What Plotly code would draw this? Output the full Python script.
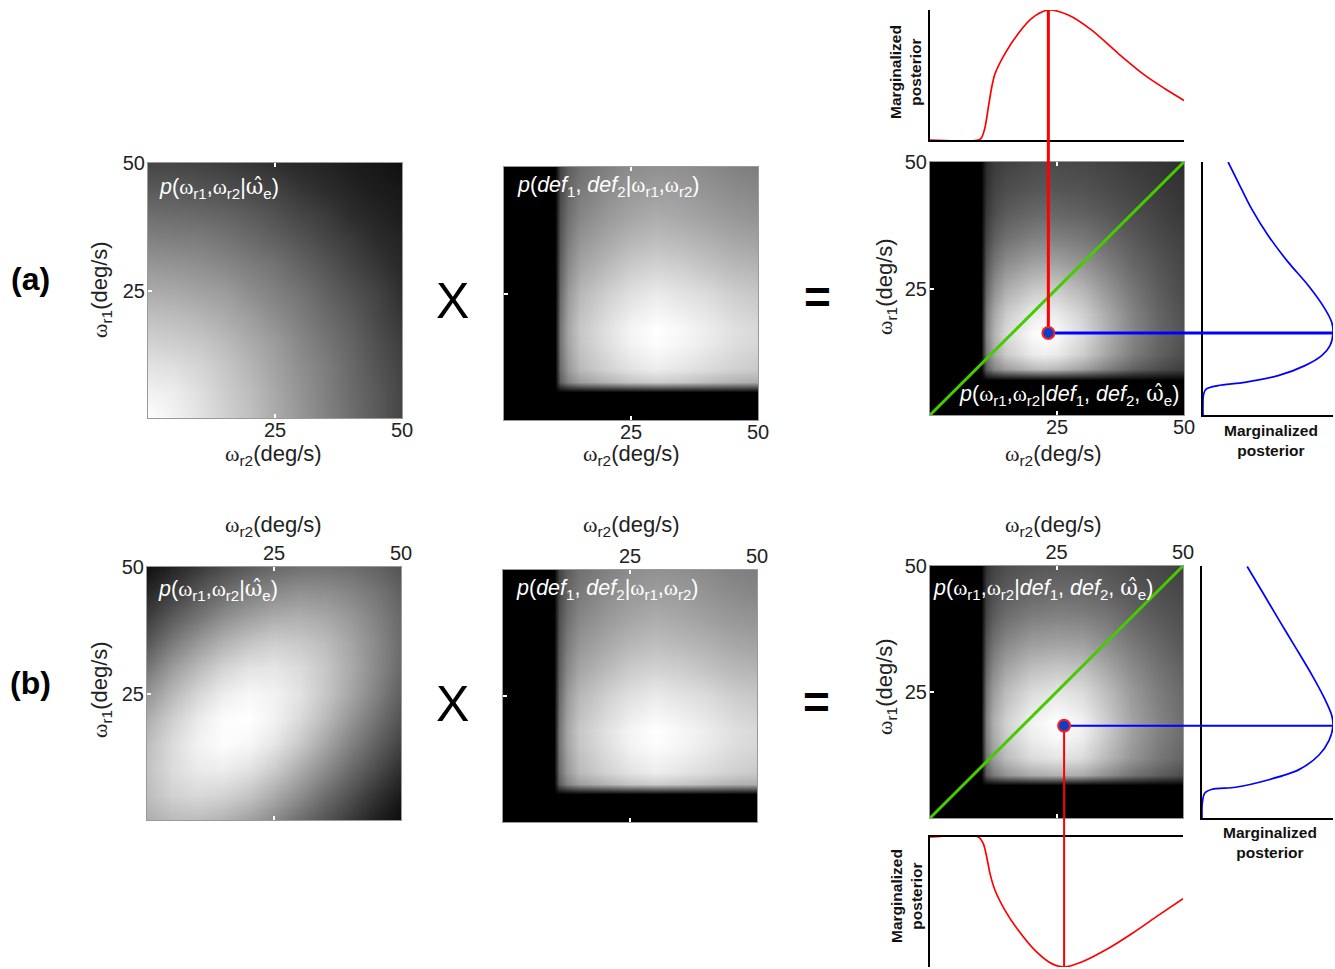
import plotly.graph_objects as go

# ---------------- data ----------------
GRID = [0, 5, 10, 15, 20, 25, 30, 35, 40, 45, 50]

# (a) prior p(wr1, wr2 | we_hat): rows = wr1 (GRID), cols = wr2 (GRID)
PRIOR_A = [
    [1.00, 0.95, 0.89, 0.82, 0.75, 0.67, 0.59, 0.51, 0.43, 0.35, 0.27],
    [0.95, 0.93, 0.875, 0.805, 0.74, 0.66, 0.58, 0.50, 0.42, 0.35, 0.27],
    [0.89, 0.875, 0.835, 0.78, 0.71, 0.634, 0.56, 0.49, 0.41, 0.33, 0.26],
    [0.82, 0.805, 0.78, 0.734, 0.67, 0.61, 0.53, 0.46, 0.39, 0.31, 0.24],
    [0.75, 0.74, 0.71, 0.67, 0.617, 0.55, 0.49, 0.42, 0.36, 0.28, 0.21],
    [0.67, 0.66, 0.634, 0.61, 0.55, 0.50, 0.45, 0.38, 0.32, 0.26, 0.18],
    [0.59, 0.58, 0.56, 0.53, 0.49, 0.45, 0.39, 0.33, 0.27, 0.21, 0.155],
    [0.51, 0.50, 0.49, 0.46, 0.42, 0.38, 0.33, 0.28, 0.23, 0.17, 0.14],
    [0.43, 0.42, 0.41, 0.39, 0.36, 0.32, 0.27, 0.23, 0.17, 0.14, 0.11],
    [0.35, 0.35, 0.33, 0.31, 0.28, 0.26, 0.21, 0.17, 0.14, 0.11, 0.09],
    [0.27, 0.27, 0.26, 0.24, 0.21, 0.18, 0.155, 0.14, 0.11, 0.09, 0.06],
]

# (b) prior p(wr1, wr2 | we_hat)
PRIOR_B = [
    [0.68, 0.73, 0.74, 0.70, 0.63, 0.54, 0.43, 0.33, 0.23, 0.12, 0.05],
    [0.74, 0.82, 0.85, 0.83, 0.77, 0.67, 0.56, 0.43, 0.32, 0.20, 0.10],
    [0.76, 0.86, 0.92, 0.93, 0.89, 0.80, 0.68, 0.55, 0.42, 0.30, 0.18],
    [0.74, 0.86, 0.95, 0.99, 0.97, 0.90, 0.79, 0.65, 0.51, 0.38, 0.26],
    [0.68, 0.81, 0.92, 0.99, 1.00, 0.95, 0.86, 0.73, 0.59, 0.45, 0.32],
    [0.58, 0.72, 0.84, 0.93, 0.97, 0.95, 0.89, 0.78, 0.65, 0.51, 0.37],
    [0.46, 0.61, 0.73, 0.83, 0.89, 0.90, 0.86, 0.78, 0.67, 0.54, 0.41],
    [0.34, 0.48, 0.60, 0.70, 0.77, 0.81, 0.79, 0.74, 0.65, 0.54, 0.42],
    [0.24, 0.36, 0.46, 0.56, 0.63, 0.68, 0.69, 0.66, 0.60, 0.51, 0.41],
    [0.15, 0.24, 0.34, 0.42, 0.49, 0.54, 0.57, 0.56, 0.52, 0.46, 0.38],
    [0.06, 0.14, 0.22, 0.30, 0.36, 0.41, 0.44, 0.45, 0.43, 0.39, 0.33],
]

# likelihood p(def1, def2 | wr1, wr2) (same in both rows)
LIK_X = [0, 10, 11, 12.5, 15, 20, 25, 30, 35, 40, 45, 50]
LIK_Y = [0, 5.5, 7.5, 10, 15, 18, 25, 30, 35, 40, 45, 50]
LIKELIHOOD = [
    [0, 0, 0.00, 0.00, 0.00, 0.00, 0.00, 0.00, 0.00, 0.00, 0.00, 0.00],
    [0, 0, 0.00, 0.00, 0.00, 0.00, 0.00, 0.00, 0.00, 0.00, 0.00, 0.00],
    [0, 0, 0.36, 0.52, 0.62, 0.70, 0.77, 0.80, 0.78, 0.74, 0.70, 0.68],
    [0, 0, 0.42, 0.60, 0.73, 0.82, 0.89, 0.93, 0.90, 0.86, 0.82, 0.79],
    [0, 0, 0.45, 0.64, 0.77, 0.87, 0.95, 0.99, 0.96, 0.92, 0.87, 0.84],
    [0, 0, 0.45, 0.65, 0.78, 0.88, 0.96, 1.00, 0.97, 0.93, 0.88, 0.85],
    [0, 0, 0.41, 0.60, 0.72, 0.81, 0.88, 0.92, 0.89, 0.86, 0.81, 0.78],
    [0, 0, 0.37, 0.54, 0.65, 0.73, 0.80, 0.83, 0.81, 0.77, 0.73, 0.71],
    [0, 0, 0.34, 0.49, 0.59, 0.66, 0.72, 0.75, 0.73, 0.70, 0.66, 0.64],
    [0, 0, 0.31, 0.44, 0.53, 0.60, 0.65, 0.68, 0.66, 0.63, 0.60, 0.58],
    [0, 0, 0.28, 0.40, 0.48, 0.55, 0.60, 0.62, 0.61, 0.58, 0.55, 0.53],
    [0, 0, 0.26, 0.37, 0.44, 0.50, 0.55, 0.57, 0.56, 0.54, 0.51, 0.49],
]

# (a) posterior
POST_A_X = [0, 10, 11, 12.5, 15, 20, 22.5, 25, 30, 35, 40, 45, 50]
POST_A_Y = [0, 7, 9, 12, 16, 20, 25, 30, 35, 40, 45, 50]
POST_A = [
    [0, 0, 0.00, 0.00, 0.00, 0.00, 0.00, 0.00, 0.00, 0.00, 0.00, 0.00, 0.00],
    [0, 0, 0.00, 0.00, 0.00, 0.00, 0.00, 0.00, 0.00, 0.00, 0.00, 0.00, 0.00],
    [0, 0, 0.36, 0.52, 0.62, 0.72, 0.74, 0.72, 0.63, 0.50, 0.38, 0.30, 0.24],
    [0, 0, 0.47, 0.66, 0.80, 0.92, 0.94, 0.92, 0.81, 0.64, 0.49, 0.38, 0.30],
    [0, 0, 0.50, 0.70, 0.85, 0.98, 1.00, 0.98, 0.86, 0.68, 0.52, 0.40, 0.32],
    [0, 0, 0.47, 0.66, 0.80, 0.92, 0.94, 0.92, 0.82, 0.66, 0.51, 0.39, 0.31],
    [0, 0, 0.40, 0.56, 0.68, 0.78, 0.80, 0.79, 0.71, 0.58, 0.46, 0.36, 0.29],
    [0, 0, 0.33, 0.46, 0.55, 0.63, 0.64, 0.63, 0.58, 0.49, 0.40, 0.33, 0.27],
    [0, 0, 0.27, 0.37, 0.44, 0.50, 0.51, 0.50, 0.47, 0.41, 0.35, 0.29, 0.25],
    [0, 0, 0.22, 0.30, 0.36, 0.40, 0.41, 0.40, 0.38, 0.34, 0.30, 0.26, 0.22],
    [0, 0, 0.19, 0.26, 0.30, 0.33, 0.34, 0.33, 0.32, 0.29, 0.26, 0.23, 0.20],
    [0, 0, 0.17, 0.23, 0.26, 0.29, 0.30, 0.29, 0.28, 0.26, 0.23, 0.21, 0.18],
]

# (b) posterior
POST_B_X = [0, 10, 11, 12.5, 15, 20, 25, 30, 35, 40, 45, 50]
POST_B_Y = [0, 6.5, 8.5, 12, 16, 19, 25, 30, 35, 40, 45, 50]
POST_B = [
    [0, 0, 0.00, 0.00, 0.00, 0.00, 0.00, 0.00, 0.00, 0.00, 0.00, 0.00],
    [0, 0, 0.00, 0.00, 0.00, 0.00, 0.00, 0.00, 0.00, 0.00, 0.00, 0.00],
    [0, 0, 0.35, 0.48, 0.58, 0.67, 0.70, 0.67, 0.56, 0.45, 0.37, 0.30],
    [0, 0, 0.45, 0.61, 0.74, 0.86, 0.90, 0.86, 0.72, 0.58, 0.47, 0.39],
    [0, 0, 0.49, 0.66, 0.80, 0.93, 0.98, 0.93, 0.78, 0.62, 0.50, 0.42],
    [0, 0, 0.50, 0.68, 0.82, 0.95, 1.00, 0.95, 0.80, 0.64, 0.52, 0.43],
    [0, 0, 0.45, 0.61, 0.74, 0.86, 0.90, 0.86, 0.74, 0.60, 0.49, 0.41],
    [0, 0, 0.39, 0.53, 0.64, 0.74, 0.77, 0.75, 0.65, 0.54, 0.45, 0.38],
    [0, 0, 0.33, 0.44, 0.53, 0.61, 0.63, 0.62, 0.55, 0.47, 0.40, 0.34],
    [0, 0, 0.27, 0.36, 0.43, 0.49, 0.51, 0.50, 0.46, 0.40, 0.35, 0.31],
    [0, 0, 0.23, 0.30, 0.36, 0.40, 0.42, 0.41, 0.38, 0.34, 0.31, 0.28],
    [0, 0, 0.20, 0.26, 0.31, 0.34, 0.35, 0.35, 0.33, 0.30, 0.28, 0.25],
]

# marginalized posteriors over wr2 (red) and wr1 (blue)
RED_A_X = [0, 9.51, 10.18, 10.83, 11.48, 12.15, 12.80, 14.76, 17.38, 20.02, 23.29,
           27.22, 31.83, 37.07, 42.32, 46.26, 50]
RED_A_V = [0, 0, 0.02, 0.097, 0.251, 0.406, 0.51, 0.665, 0.82, 0.936, 1.0,
           0.961, 0.845, 0.665, 0.497, 0.394, 0.304]
BLUE_A_W = [0, 4.16, 5.15, 5.80, 6.45, 7.78, 9.76, 11.74, 13.72, 16.23, 18.33, 20.98,
            25.59, 30.21, 35.49, 40.78, 46.04, 50]
BLUE_A_V = [0, 0.005, 0.026, 0.116, 0.322, 0.578, 0.784, 0.913, 0.977, 1.0, 0.99, 0.938,
            0.81, 0.655, 0.501, 0.373, 0.27, 0.193]

RED_B_X = [0, 9.55, 10.53, 11.21, 11.86, 12.85, 14.82, 17.45, 20.75, 24.05, 26.54,
           29.98, 34.58, 39.86, 45.12, 50]
RED_B_V = [0, 0, 0.051, 0.154, 0.282, 0.41, 0.564, 0.718, 0.872, 0.974, 1.0,
           0.962, 0.872, 0.744, 0.603, 0.474]
BLUE_B_W = [0, 2.9, 4.9, 5.7, 6.1, 7.6, 9.6, 12.5, 15.4, 18.3, 20.4, 23.2, 28.2, 33.8,
            39.3, 44.9, 49.9]
BLUE_B_V = [0, 0.002, 0.02, 0.077, 0.255, 0.51, 0.74, 0.893, 0.97, 1.0, 0.99, 0.945,
            0.843, 0.715, 0.587, 0.46, 0.345]

# maximum a posteriori estimates (wr2, wr1)
MAP_A = (23.3, 16.2)
MAP_B = (26.5, 18.3)
DIAG = [0, 50]
TICKS = [25, 50]

# ---------------- layout helpers ----------------
W, H = 1335, 969
SANS = "Liberation Sans, Arial, sans-serif"
SERIF = "Liberation Serif"


def xdom(a, b):
    return [a / W, b / W]


def ydom(top, bottom):
    return [1 - bottom / H, 1 - top / H]


def to_paper(v, dom, rng):
    return dom[0] + (v - rng[0]) / (rng[1] - rng[0]) * (dom[1] - dom[0])


OM = f"<span style='font-family:{SERIF}'>ω</span>"
OMH = "<span style='font-family:DejaVu Serif'>ω\u0302</span>"
XTITLE = f"{OM}<sub>r2</sub>(deg/s)"
YTITLE = f"{OM}<sub>r1</sub>(deg/s)"
PRIOR_TXT = f"<i>p</i>({OM}<sub>r1</sub>,{OM}<sub>r2</sub>|{OMH}<sub>e</sub>)"
LIK_TXT = f"<i>p</i>(<i>def</i><sub>1</sub>, <i>def</i><sub>2</sub>|{OM}<sub>r1</sub>,{OM}<sub>r2</sub>)"
POST_TXT = (f"<i>p</i>({OM}<sub>r1</sub>,{OM}<sub>r2</sub>|<i>def</i><sub>1</sub>, "
            f"<i>def</i><sub>2</sub>, {OMH}<sub>e</sub>)")

GRAY = [[0, "black"], [1, "white"]]
TICKFONT = dict(family=SANS, size=20, color="#222")

fig = go.Figure()

# panel geometry (pixels)
D = {
    "a1": (xdom(148, 402), ydom(163, 418)),
    "a2": (xdom(504, 758), ydom(167, 420)),
    "a3": (xdom(930, 1184), ydom(162, 415)),
    "b1": (xdom(147, 401), ydom(567, 820)),
    "b2": (xdom(503, 757), ydom(570, 822)),
    "b3": (xdom(930, 1183), ydom(566, 818)),
}
AX = {"a1": 1, "a2": 2, "a3": 3, "b1": 6, "b2": 7, "b3": 8}


def axname(kind, n):
    return f"{kind}axis" if n == 1 else f"{kind}axis{n}"


def ref(kind, n):
    return kind if n == 1 else f"{kind}{n}"


heat_data = {
    "a1": (GRID, GRID, PRIOR_A),
    "a2": (LIK_X, LIK_Y, LIKELIHOOD),
    "a3": (POST_A_X, POST_A_Y, POST_A),
    "b1": (GRID, GRID, PRIOR_B),
    "b2": (LIK_X, LIK_Y, LIKELIHOOD),
    "b3": (POST_B_X, POST_B_Y, POST_B),
}

layout_axes = {}
for key, (xd, yd) in D.items():
    n = AX[key]
    xs, ys, z = heat_data[key]
    fig.add_trace(go.Heatmap(x=xs, y=ys, z=z, colorscale=GRAY, zmin=0, zmax=1,
                             zsmooth="best", showscale=False, hoverinfo="skip",
                             xaxis=ref("x", n), yaxis=ref("y", n)))
    common = dict(range=[0, 50], tickvals=TICKS, ticks="inside", ticklen=4, tickwidth=2,
                  tickcolor="white", showline=True, linecolor="#999", linewidth=1,
                  showgrid=False, zeroline=False, tickfont=TICKFONT,
                  fixedrange=True, automargin=False)
    top = key.startswith("b")
    layout_axes[axname("x", n)] = dict(domain=xd, anchor=ref("y", n),
                                       side="top" if top else "bottom", mirror="ticks",
                                       ticklabelstandoff=-2 if top else -6, **common)
    layout_axes[axname("y", n)] = dict(domain=yd, anchor=ref("x", n), mirror=True,
                                       ticklabelstandoff=-2,
                                       showticklabels=not key.endswith("2"), **common)

# green diagonal on posteriors
for key in ("a3", "b3"):
    n = AX[key]
    fig.add_trace(go.Scatter(x=DIAG, y=DIAG, mode="lines", line=dict(color="#44cc00", width=3),
                             xaxis=ref("x", n), yaxis=ref("y", n), hoverinfo="skip",
                             showlegend=False))

MARG_LINE = dict(showline=True, linecolor="black", linewidth=2, showticklabels=False,
                 ticks="", showgrid=False, zeroline=False, fixedrange=True, automargin=False)
CURVE = dict(width=1.7, shape="spline", smoothing=0.8)

# (a) top marginal: x4/y4 ; right marginal: x5/y5
XD_A3, YD_A3 = D["a3"]
YD_A_TOP = ydom(10, 140)
XD_A_RIGHT = xdom(1203, 1333)
layout_axes["xaxis4"] = dict(domain=XD_A3, range=[0, 50], anchor="y4", **MARG_LINE)
layout_axes["yaxis4"] = dict(domain=YD_A_TOP, range=[0, 1], anchor="x4", **MARG_LINE)
layout_axes["xaxis5"] = dict(domain=XD_A_RIGHT, range=[0, 1], anchor="y5", **MARG_LINE)
layout_axes["yaxis5"] = dict(domain=YD_A3, range=[0, 50], anchor="x5", **MARG_LINE)
fig.add_trace(go.Scatter(x=RED_A_X, y=RED_A_V, mode="lines", xaxis="x4", yaxis="y4",
                         line=dict(color="#ff0000", **CURVE), hoverinfo="skip", showlegend=False))
fig.add_trace(go.Scatter(x=BLUE_A_V, y=BLUE_A_W, mode="lines", xaxis="x5", yaxis="y5",
                         line=dict(color="#0000ff", **CURVE), hoverinfo="skip", showlegend=False))

# (b) right marginal: x9/y9 ; bottom marginal: x10/y10
XD_B3, YD_B3 = D["b3"]
XD_B_RIGHT = xdom(1202, 1333)
YD_B_BOT = ydom(837, 967)
layout_axes["xaxis9"] = dict(domain=XD_B_RIGHT, range=[0, 1], anchor="y9", **MARG_LINE)
layout_axes["yaxis9"] = dict(domain=YD_B3, range=[0, 50], anchor="x9", **MARG_LINE)
layout_axes["xaxis10"] = dict(domain=XD_B3, range=[0, 50], anchor="y10", side="top", **MARG_LINE)
layout_axes["yaxis10"] = dict(domain=YD_B_BOT, range=[1, 0], anchor="x10", **MARG_LINE)
fig.add_trace(go.Scatter(x=BLUE_B_V, y=BLUE_B_W, mode="lines", xaxis="x9", yaxis="y9",
                         line=dict(color="#0000ff", **CURVE), hoverinfo="skip", showlegend=False))
fig.add_trace(go.Scatter(x=RED_B_X, y=RED_B_V, mode="lines", xaxis="x10", yaxis="y10",
                         line=dict(color="#ff0000", **CURVE), hoverinfo="skip", showlegend=False))

# connector lines and MAP points
shapes = []
# (a)
ax_pt = to_paper(MAP_A[0], XD_A3, [0, 50])
ay_pt = to_paper(MAP_A[1], YD_A3, [0, 50])
a_top = to_paper(max(RED_A_V), YD_A_TOP, [0, 1])
a_right = to_paper(max(BLUE_A_V), XD_A_RIGHT, [0, 1])
shapes.append(dict(type="line", xref="x3", yref="paper", x0=MAP_A[0], x1=MAP_A[0],
                   y0=ay_pt, y1=a_top, line=dict(color="#ff0000", width=3)))
shapes.append(dict(type="line", xref="paper", yref="y3", x0=ax_pt, x1=a_right,
                   y0=MAP_A[1], y1=MAP_A[1], line=dict(color="#0000ff", width=3)))
# (b)
bx_pt = to_paper(MAP_B[0], XD_B3, [0, 50])
by_bot = to_paper(max(RED_B_V), YD_B_BOT, [1, 0])
by_pt = to_paper(MAP_B[1], YD_B3, [0, 50])
b_right = to_paper(max(BLUE_B_V), XD_B_RIGHT, [0, 1])
shapes.append(dict(type="line", xref="x8", yref="paper", x0=MAP_B[0], x1=MAP_B[0],
                   y0=by_pt, y1=by_bot, line=dict(color="#ff0000", width=2)))
shapes.append(dict(type="line", xref="paper", yref="y8", x0=bx_pt, x1=b_right,
                   y0=MAP_B[1], y1=MAP_B[1], line=dict(color="#0000ff", width=2)))
for (px_, py_), xr, yr in ((MAP_A, "x3", "y3"), (MAP_B, "x8", "y8")):
    shapes.append(dict(type="circle", xref=xr, yref=yr, xsizemode="pixel", ysizemode="pixel",
                       xanchor=px_, yanchor=py_, x0=-6, x1=6, y0=-6, y1=6,
                       fillcolor="#0b3fc8", line=dict(color="#ff2020", width=2)))

# annotations
ann = []


def add_text(text, x, y, size, color="#111", xanchor="center", yanchor="middle",
             angle=0, bold=False, family=SANS):
    ann.append(dict(text=f"<b>{text}</b>" if bold else text, x=x / W, y=1 - y / H,
                    xref="paper", yref="paper", showarrow=False, xanchor=xanchor,
                    yanchor=yanchor, textangle=angle,
                    font=dict(family=family, size=size, color=color)))


# panel texts inside heatmaps
LBL = 21.5
add_text(PRIOR_TXT, 157, 188, LBL, color="white", xanchor="left")
add_text(LIK_TXT, 515, 187, LBL, color="white", xanchor="left")
add_text(POST_TXT, 1181, 395, LBL, color="white", xanchor="right")
add_text(PRIOR_TXT, 156, 590, LBL, color="white", xanchor="left")
add_text(LIK_TXT, 514, 589, LBL, color="white", xanchor="left")
add_text(POST_TXT, 931, 589, LBL, color="white", xanchor="left")

# axis titles
for x in (273, 631, 1053):
    add_text(XTITLE, x, 455, 22, color="#222")
    add_text(XTITLE, x, 526, 22, color="#222")
for x, y in ((101, 290), (886, 287), (101, 690), (886, 687)):
    add_text(YTITLE, x, y, 22, color="#222", angle=-90)

# row labels and operators
add_text("(a)", 31, 279, 32, bold=True, color="black")
add_text("(b)", 30, 683, 32, bold=True, color="black")
add_text("X", 453, 301, 50, color="black")
add_text("X", 452, 704, 50, color="black")
add_text("=", 817, 297, 46, bold=True, color="black")
add_text("=", 816, 702, 46, bold=True, color="black")

# marginal labels
MP = "Marginalized<br>posterior"
add_text(MP, 906, 72, 15.5, bold=True, color="#111", angle=-90)
add_text(MP, 1271, 440, 15.5, bold=True, color="#111")
add_text(MP, 1270, 842, 15.5, bold=True, color="#111")
add_text(MP, 906, 896, 15.5, bold=True, color="#111", angle=-90)

fig.update_layout(
    width=W, height=H, autosize=False,
    margin=dict(l=0, r=0, t=0, b=0, pad=0),
    paper_bgcolor="white", plot_bgcolor="white",
    showlegend=False, shapes=shapes, annotations=ann,
    **layout_axes,
)

fig.write_html("out.html")
